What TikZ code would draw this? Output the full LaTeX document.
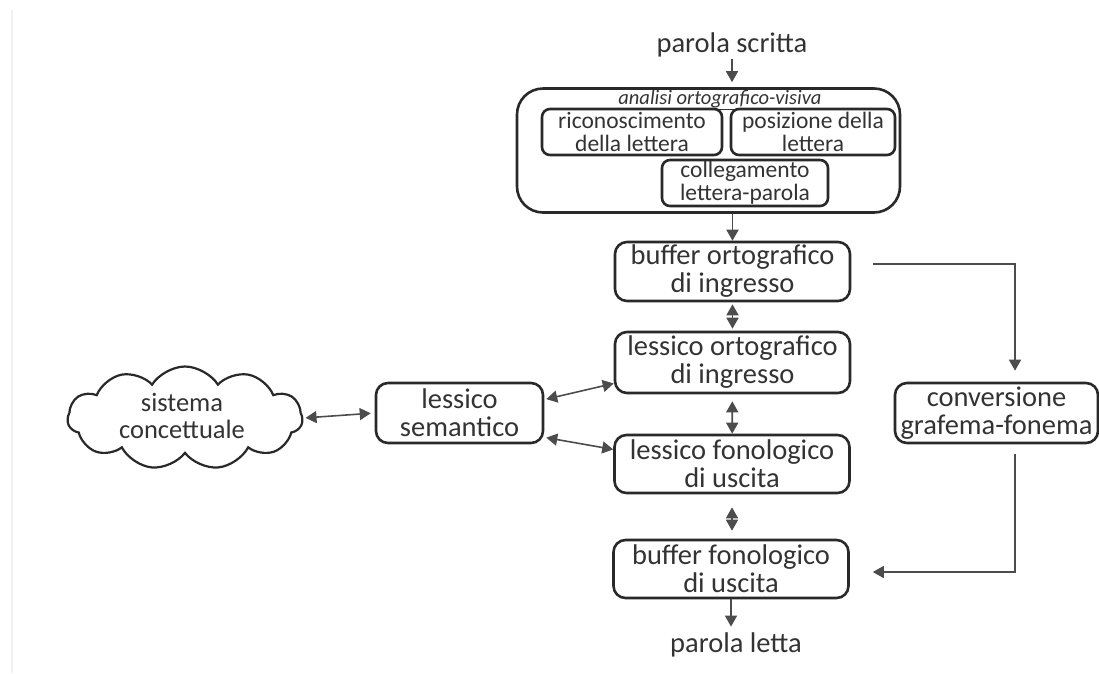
\documentclass[tikz,border=0pt]{standalone}
\usepackage{fontspec}
\setmainfont{Carlito}
\usetikzlibrary{arrows.meta,shapes.symbols}

\newlength{\du}
\setlength{\du}{1pt}
\definecolor{boxline}{rgb}{0.160000, 0.160000, 0.160000}
\definecolor{linecol}{rgb}{0.300000, 0.300000, 0.300000}
\definecolor{textcol}{rgb}{0.200000, 0.200000, 0.200000}
\tikzset{
  blockbox/.style={draw=boxline, line width=2.6pt, rounded corners=12pt,
    minimum width=235pt, minimum height=59pt, inner sep=0pt, align=center,
    text=textcol, font=\fontsize{28.5}{28}\selectfont},
  innerbox/.style={blockbox, rounded corners=8pt, minimum height=46pt,
    font=\fontsize{23.5}{23}\selectfont},
  plaintext/.style={text=textcol, inner sep=2pt, font=\fontsize{28.5}{28}\selectfont},
  link/.style={draw=linecol, line width=1.6pt, -{Triangle[length=11pt,width=12pt]}},
  dlink/.style={draw=linecol, line width=1.6pt, {Triangle[length=11pt,width=12pt]}-{Triangle[length=11pt,width=12pt]}},
}

\begin{document}
\begin{tikzpicture}
\pgftransformxscale{1.000000}
\pgftransformyscale{-1.000000}
\useasboundingbox (0\du,0\du) rectangle (1099\du,673\du);
\draw[draw=black!6, line width=1.5pt] (12\du,10\du) -- (12\du,673\du);
% ingresso visivo
\node[plaintext] (scritta) at (732\du,45\du) {parola scritta};
\node[blockbox, rounded corners=26pt, minimum width=383pt, minimum height=124pt] (ortvis) at (708.5\du,150.5\du) {};
\node[text=textcol, inner sep=0pt, font=\fontsize{20.5}{20}\selectfont\itshape] (ortvistitle) at (720\du,100\du) {\underline{analisi ortografico-visiva}};
\node[innerbox, minimum width=180pt] (ricon) at (632\du,132\du) {riconoscimento\\della lettera};
\node[innerbox, minimum width=164pt] (posiz) at (813\du,132\du) {posizione della\\lettera};
\node[innerbox, minimum width=166pt] (colleg) at (745\du,183\du) {collegamento\\lettera-parola};
% colonna lessicale
\node[blockbox] (bufort) at (732.5\du,271.5\du) {buffer ortografico\\di ingresso};
\node[blockbox, minimum height=61pt] (lesort) at (732.5\du,362.5\du) {lessico ortografico\\di ingresso};
\node[blockbox, minimum height=58pt] (lesfon) at (732\du,464\du) {lessico fonologico\\di uscita};
\node[blockbox, minimum height=58pt] (buffon) at (731\du,569\du) {buffer fonologico\\di uscita};
\node[plaintext] (letta) at (736\du,645\du) {parola letta};
% semantica
\node[blockbox, minimum width=167pt, minimum height=60pt] (lessem) at (459.5\du,413\du) {lessico\\semantico};
\node[draw=boxline, line width=2.2pt, cloud, cloud puffs=11, cloud puff arc=115,
  minimum width=235pt, minimum height=103pt, inner sep=0pt] (sistema) at (185\du,418\du) {};
\node[text=textcol, align=center, inner sep=0pt, font=\fontsize{26.5}{26.5}\selectfont] (sistematxt) at (182\du,416\du) {sistema\\concettuale};
% via non lessicale
\node[blockbox, minimum width=203pt, minimum height=60pt] (conv) at (996.5\du,413\du) {conversione\\grafema-fonema};
\coordinate (gira1) at (1015\du,264\du);
\coordinate (gira2) at (1015\du,572\du);

\draw[link, shorten >=5pt] (scritta) -- (scritta |- ortvis.north);
\draw[link] (bufort.north |- ortvis.south) -- (bufort.north);
\draw[dlink, shorten <=2pt, shorten >=2pt] (bufort) -- (lesort);
\draw[dlink, shorten <=7pt] (lesort) -- (lesfon);
\draw[dlink, shorten <=13pt, shorten >=8pt] (lesfon.south) -- (lesfon.south |- buffon.north);
\draw[link, shorten >=4pt] (buffon.south) -- (buffon.south |- letta.north);
\draw[dlink, shorten <=2pt, shorten >=4pt] (sistema.east) -- (lessem.west);
\draw[dlink, shorten <=2pt] (lessem.9) -- (lesort.190);
\draw[dlink, shorten <=2pt] (lessem.-16) -- (lesfon.173);
\draw[link, shorten <=22pt, shorten >=11pt] (gira1 -| bufort.east) -- (gira1) -- (gira1 |- conv.north);
\draw[link, shorten <=10pt, shorten >=23pt] (gira1 |- conv.south) -- (gira2) -- (gira2 -| buffon.east);
\end{tikzpicture}
\end{document}
